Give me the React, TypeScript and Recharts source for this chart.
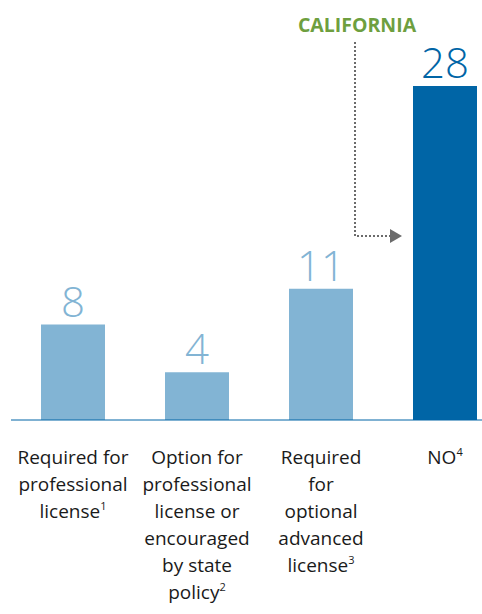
import React from "react";
import { BarChart, Bar, XAxis, YAxis, Cell, LabelList } from "recharts";

const categories = ["Required", "Option", "Advanced", "No"];
const values = [8, 4, 11, 28];
const tickLines = [
  ["Required for", "professional", "license"],
  ["Option for", "professional", "license or", "encouraged", "by state", "policy"],
  ["Required", "for", "optional", "advanced", "license"],
  ["NO"],
];
const footnotes = ["1", "2", "3", "4"];
const highlightLabel = "CALIFORNIA";
const highlightIndex = 3;

const data = categories.map((c, i) => ({ name: c, value: values[i], idx: i }));

const LIGHT = "#82b4d4";
const DARK = "#0065a6";
const GREEN = "#6e9f3f";
const FONT = "'Open Sans', sans-serif";

const CategoryTick = (props: any) => {
  const { x, y, payload } = props;
  const i = payload.index;
  const lines = tickLines[i];
  return (
    <g>
      {lines.map((line, j) => (
        <text
          key={j}
          x={x}
          y={y + 36 + j * 27}
          textAnchor="middle"
          fontFamily={FONT}
          fontSize={19}
          fill="#1a1a1a"
        >
          {line}
          {j === lines.length - 1 && (
            <tspan fontSize={11} dy={-8}>
              {footnotes[i]}
            </tspan>
          )}
        </text>
      ))}
    </g>
  );
};

const ValueLabel = (props: any) => {
  const { x, y, width, value, index } = props;
  const cx = x + width / 2;
  const hi = index === highlightIndex;
  return (
    <g>
      <text
        x={cx}
        y={y - 8}
        textAnchor="middle"
        fontFamily={FONT}
        fontWeight={300}
        fontSize={42}
        fill={hi ? DARK : LIGHT}
      >
        {value}
      </text>
      {hi && (
        <g>
          <text
            x={x - 56}
            y={y - 54}
            textAnchor="middle"
            fontFamily={FONT}
            fontWeight={700}
            fontSize={19.5}
            fill={GREEN}
          >
            {highlightLabel}
          </text>
          <polyline
            points={`${x - 58},${y - 44} ${x - 58},${y + 150} ${x - 23},${y + 150}`}
            fill="none"
            stroke="#6b6b6b"
            strokeWidth={2}
            strokeDasharray="2 2"
          />
          <polygon
            points={`${x - 23},${y + 143} ${x - 11},${y + 150} ${x - 23},${y + 157}`}
            fill="#6b6b6b"
          />
        </g>
      )}
    </g>
  );
};

export default function App() {
  return (
    <div style={{ position: "absolute", left: 0, top: 0, width: 482, height: 614, overflow: "hidden", background: "#fff" }}>
      <BarChart
        width={507}
        height={614}
        data={data}
        margin={{ top: 86, right: 0, left: 11, bottom: 0 }}
      >
        <XAxis
          dataKey="name"
          height={194}
          tickLine={false}
          axisLine={{ stroke: DARK, strokeWidth: 1 }}
          tick={<CategoryTick />}
          interval={0}
        />
        <YAxis hide domain={[0, 28]} />
        <Bar dataKey="value" barSize={64} isAnimationActive={false}>
          {data.map((d, i) => (
            <Cell key={i} fill={i === highlightIndex ? DARK : LIGHT} />
          ))}
          <LabelList dataKey="value" content={<ValueLabel />} />
        </Bar>
      </BarChart>
    </div>
  );
}
